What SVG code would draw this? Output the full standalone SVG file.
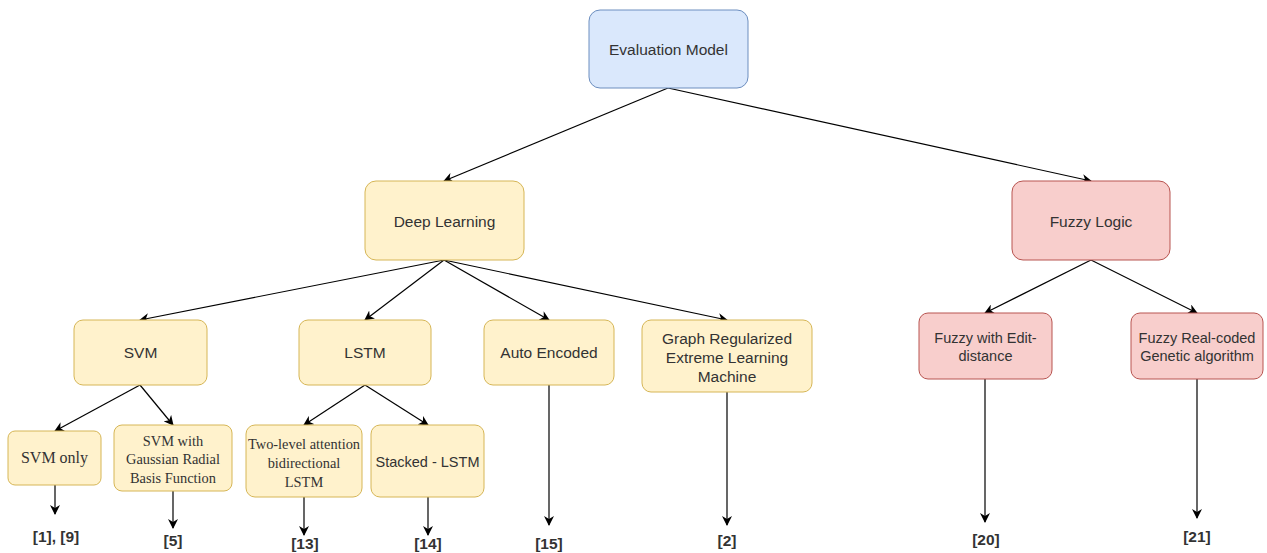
<svg xmlns="http://www.w3.org/2000/svg" width="1267" height="553" viewBox="0 0 1267 553">
<style>
.blue{fill:#dae8fc;stroke:#6c8ebf;stroke-width:1}
.yel{fill:#fff2cc;stroke:#d6b656;stroke-width:1}
.red{fill:#f8cecc;stroke:#b85450;stroke-width:1}
.t{font-family:"Liberation Sans",Arial,sans-serif;font-size:15.5px;fill:#333;text-anchor:middle}
.ts{font-family:"Liberation Sans",Arial,sans-serif;font-size:14.5px;fill:#333;text-anchor:middle}
.tr{font-family:"Liberation Serif","Times New Roman",serif;font-size:14.4px;fill:#333;text-anchor:middle}
.ref{font-family:"Liberation Sans",Arial,sans-serif;font-size:15.5px;font-weight:bold;fill:#333;text-anchor:middle}
.c{stroke:#000;stroke-width:1.2;fill:none;marker-end:url(#ah)}
</style>
<defs>
<marker id="ah" viewBox="0 0 10 10" refX="9" refY="5" markerWidth="10" markerHeight="10" markerUnits="userSpaceOnUse" orient="auto">
<path d="M0,0 L10,5 L0,10 L3,5 z" fill="#000"/>
</marker>
</defs>
<rect width="1267" height="553" fill="#fff"/>
<g id="connectors">
<line class="c" x1="668" y1="88" x2="444" y2="181"/>
<line class="c" x1="668" y1="88" x2="1091" y2="181"/>
<line class="c" x1="444" y1="260" x2="140" y2="320"/>
<line class="c" x1="444" y1="260" x2="365" y2="320"/>
<line class="c" x1="444" y1="260" x2="549" y2="320"/>
<line class="c" x1="444" y1="260" x2="727" y2="320"/>
<line class="c" x1="1091" y1="260" x2="985" y2="313"/>
<line class="c" x1="1091" y1="260" x2="1197" y2="313"/>
<line class="c" x1="140" y1="385" x2="55" y2="431"/>
<line class="c" x1="140" y1="385" x2="173" y2="425"/>
<line class="c" x1="365" y1="385" x2="304" y2="425"/>
<line class="c" x1="365" y1="385" x2="428" y2="425"/>
<line class="c" x1="55" y1="485" x2="55" y2="514"/>
<line class="c" x1="173" y1="491" x2="173" y2="528"/>
<line class="c" x1="304" y1="497" x2="304" y2="535"/>
<line class="c" x1="428" y1="497" x2="428" y2="535"/>
<line class="c" x1="549" y1="385" x2="549" y2="525"/>
<line class="c" x1="727" y1="392" x2="727" y2="525"/>
<line class="c" x1="985" y1="379" x2="985" y2="522"/>
<line class="c" x1="1197" y1="379" x2="1197" y2="518"/>
</g>
<g id="evaluation-model">
<rect class="blue" x="589" y="10" width="159" height="78" rx="11"/>
<text class="t" x="668.5" y="54.5">Evaluation Model</text>
</g>
<g id="deep-learning">
<rect class="yel" x="365" y="181" width="159" height="79" rx="11"/>
<text class="t" x="444.5" y="226.5">Deep Learning</text>
</g>
<g id="fuzzy-logic">
<rect class="red" x="1012" y="181" width="158" height="79" rx="11"/>
<text class="t" x="1091" y="226.5">Fuzzy Logic</text>
</g>
<g id="svm">
<rect class="yel" x="74" y="320" width="133" height="65" rx="9"/>
<text class="t" x="140.5" y="358">SVM</text>
</g>
<g id="lstm">
<rect class="yel" x="299" y="320" width="132" height="65" rx="9"/>
<text class="t" x="365" y="358">LSTM</text>
</g>
<g id="auto-encoded">
<rect class="yel" x="484" y="320" width="130" height="65" rx="9"/>
<text class="t" x="549" y="358">Auto Encoded</text>
</g>
<g id="graph-regularized">
<rect class="yel" x="642" y="320" width="170" height="72" rx="9"/>
<text class="t" x="727" y="343.5">Graph Regularized</text>
<text class="t" x="727" y="362.5">Extreme Learning</text>
<text class="t" x="727" y="381.5">Machine</text>
</g>
<g id="fuzzy-edit">
<rect class="red" x="919" y="313" width="133" height="66" rx="9"/>
<text class="ts" x="985.5" y="343">Fuzzy with Edit-</text>
<text class="ts" x="985.5" y="361">distance</text>
</g>
<g id="fuzzy-real">
<rect class="red" x="1131" y="313" width="132" height="66" rx="9"/>
<text class="ts" x="1197" y="343">Fuzzy Real-coded</text>
<text class="ts" x="1197" y="361">Genetic algorithm</text>
</g>
<g id="svm-only">
<rect class="yel" x="8" y="431" width="93" height="54" rx="7"/>
<text class="tr" x="54.5" y="463" style="font-size:16px">SVM only</text>
</g>
<g id="svm-gaussian">
<rect class="yel" x="114" y="425" width="118" height="66" rx="8"/>
<text class="tr" x="173" y="446">SVM with</text>
<text class="tr" x="173" y="464">Gaussian Radial</text>
<text class="tr" x="173" y="483">Basis Function</text>
</g>
<g id="two-level">
<rect class="yel" x="246" y="425" width="116" height="72" rx="9"/>
<text class="tr" x="304" y="449">Two-level attention</text>
<text class="tr" x="304" y="468">bidirectional</text>
<text class="tr" x="304" y="487">LSTM</text>
</g>
<g id="stacked-lstm">
<rect class="yel" x="371" y="425" width="113" height="72" rx="9"/>
<text class="ts" x="427.5" y="467">Stacked - LSTM</text>
</g>
<g id="refs">
<text class="ref" x="56" y="542">[1], [9]</text>
<text class="ref" x="173" y="545.5">[5]</text>
<text class="ref" x="305" y="549">[13]</text>
<text class="ref" x="428" y="549">[14]</text>
<text class="ref" x="549" y="549">[15]</text>
<text class="ref" x="727" y="545.5">[2]</text>
<text class="ref" x="986" y="544.5">[20]</text>
<text class="ref" x="1197" y="541.5">[21]</text>
</g>
</svg>
